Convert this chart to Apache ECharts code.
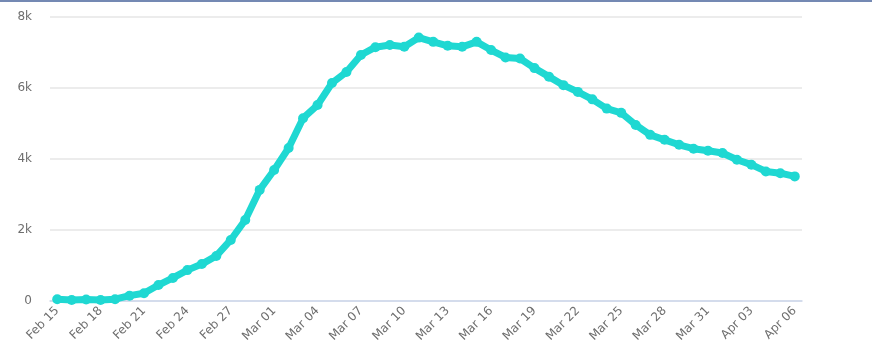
<!DOCTYPE html>
<html>
<head>
<meta charset="utf-8">
<script src="https://cdn.jsdelivr.net/npm/echarts@6/dist/echarts.min.js"></script>
<style>
html,body{margin:0;padding:0;background:#fff;}
#c{width:872px;height:362px;}
</style>
</head>
<body>
<div id="c"></div>
<script>
const categories = [
  'Feb 15','Feb 16','Feb 17','Feb 18','Feb 19','Feb 20','Feb 21','Feb 22','Feb 23','Feb 24',
  'Feb 25','Feb 26','Feb 27','Feb 28','Feb 29','Mar 01','Mar 02','Mar 03','Mar 04','Mar 05',
  'Mar 06','Mar 07','Mar 08','Mar 09','Mar 10','Mar 11','Mar 12','Mar 13','Mar 14','Mar 15',
  'Mar 16','Mar 17','Mar 18','Mar 19','Mar 20','Mar 21','Mar 22','Mar 23','Mar 24','Mar 25',
  'Mar 26','Mar 27','Mar 28','Mar 29','Mar 30','Mar 31','Apr 01','Apr 02','Apr 03','Apr 04',
  'Apr 05','Apr 06'
];
const values = [
  50, 30, 40, 30, 50, 150, 220, 450, 650, 870,
  1040, 1270, 1720, 2280, 3130, 3690, 4310, 5150, 5520, 6140,
  6450, 6930, 7150, 7210, 7160, 7420, 7300, 7190, 7160, 7300,
  7070, 6860, 6830, 6560, 6320, 6080, 5890, 5680, 5420, 5300,
  4960, 4680, 4540, 4400, 4290, 4230, 4170, 3980, 3840, 3650,
  3600, 3510
];
const yTicks = [0, 2000, 4000, 6000, 8000];
const yTickLabels = ['0', '2k', '4k', '6k', '8k'];

const chart = echarts.init(document.getElementById('c'), null, {renderer: 'canvas'});
chart.setOption({
  animation: false,
  backgroundColor: '#ffffff',
  textStyle: {fontFamily: 'DejaVu Sans'},
  grid: {left: 50, right: 70, top: 17, bottom: 61, containLabel: false},
  xAxis: {
    type: 'category',
    data: categories,
    boundaryGap: true,
    axisLine: {show: true, lineStyle: {color: '#ccd6eb', width: 1.5}},
    axisTick: {show: false},
    axisLabel: {
      interval: 2,
      rotate: 45,
      color: '#6e6e6e',
      fontSize: 12,
      fontFamily: 'DejaVu Sans',
      margin: 8
    },
    splitLine: {show: false}
  },
  yAxis: {
    type: 'value',
    min: yTicks[0],
    max: yTicks[yTicks.length - 1],
    interval: 2000,
    axisLine: {show: false},
    axisTick: {show: false},
    axisLabel: {
      color: '#6e6e6e',
      fontSize: 12,
      fontFamily: 'DejaVu Sans',
      margin: 18,
      formatter: function (v) {
        const i = yTicks.indexOf(v);
        return i >= 0 ? yTickLabels[i] : '';
      }
    },
    splitLine: {show: true, lineStyle: {color: '#e6e6e6', width: 1.5}}
  },
  series: [{
    type: 'line',
    data: values,
    symbol: 'circle',
    symbolSize: 10,
    showAllSymbol: true,
    lineStyle: {color: '#1fd8d2', width: 7},
    itemStyle: {color: '#1fd8d2'}
  }],
  graphic: [{
    type: 'rect',
    left: 0, top: 0,
    shape: {width: 872, height: 2},
    style: {fill: '#7489b3'},
    silent: true
  }]
});
</script>
</body>
</html>
